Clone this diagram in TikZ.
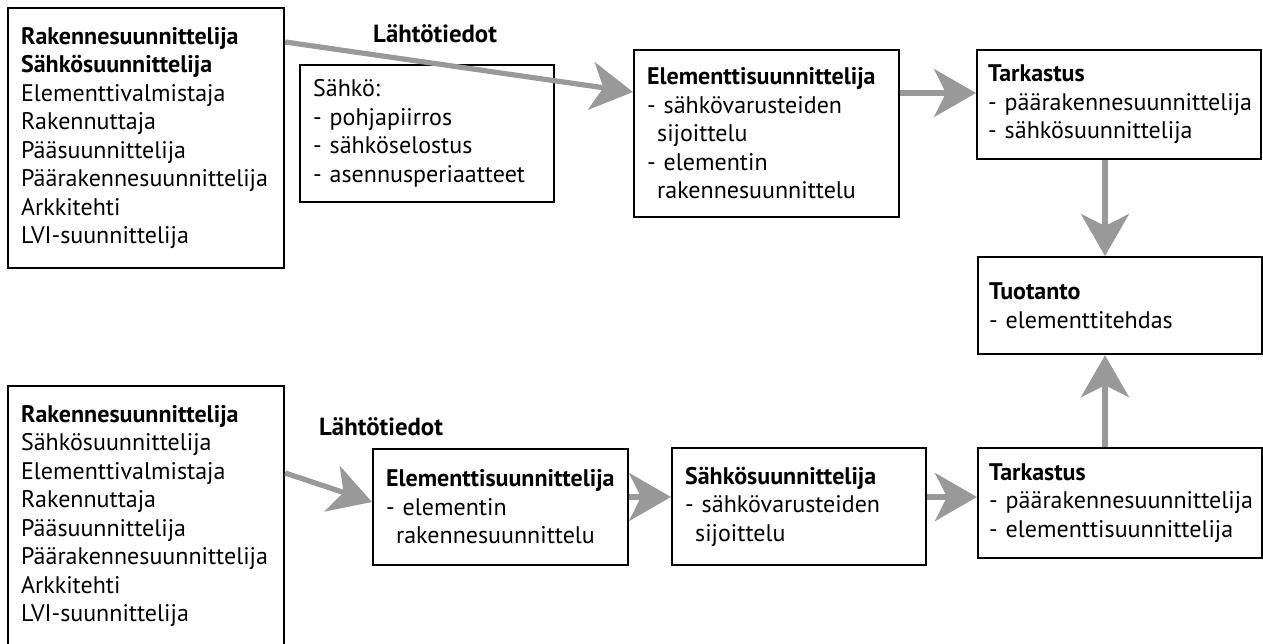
\documentclass[tikz,border=0pt]{standalone}
\usepackage{fontspec}
\setmainfont{PT Sans}
\usepackage{tikz}
\usetikzlibrary{arrows.meta,calc}
\definecolor{nuolenharmaa}{gray}{0.6}
\newcommand{\jatko}{\hspace*{0.42em}}
\hyphenpenalty=10000
\exhyphenpenalty=10000
\hbadness=10000
\hfuzz=20pt

\begin{document}
\begin{tikzpicture}[x=0.5pt, y=-0.5pt,
        laatikko/.style={draw, line width=1.1pt, rectangle, anchor=north west, align=left,
            inner xsep=6.5pt, inner ysep=0pt,
            font=\fontsize{12pt}{14.25pt}\selectfont},
        otsikko/.style={anchor=base, font=\fontsize{12.4pt}{14.25pt}\selectfont\bfseries},
        nuoli/.style={draw=nuolenharmaa, line width=2.6pt,
            -{Stealth[length=21pt, width=24pt, inset=6pt, fill=nuolenharmaa]}}]
    \useasboundingbox (0,0) rectangle (1263,643);
        % ylempi ketju
        \node[laatikko, text width=125pt, minimum height=130pt] (rak1) at (7,7)
            {\textbf{Rakennesuunnittelija}\\ \textbf{Sähkösuunnittelija}\\ Elementtivalmistaja\\ Rakennuttaja\\ Pääsuunnittelija\\ Päärakennesuunnittelija\\ Arkkitehti\\ LVI-suunnittelija};
        \node[otsikko] (lahto1) at (435,42) {Lähtötiedot};
        \node[laatikko, text width=114pt, minimum height=68.5pt] (sahko) at (299,64)
            {Sähkö:\\ -~pohjapiirros\\ -~sähköselostus\\ -~asennusperiaatteet};
        \node[laatikko, text width=119.5pt, minimum height=83.5pt] (elem1) at (633,49)
            {\textbf{Elementtisuunnittelija}\\ -~sähkövarusteiden\\ \jatko sijoittelu\\ -~elementin\\ \jatko rakennesuunnittelu};
        \node[laatikko, inner xsep=5.5pt, text width=131pt, minimum height=54.5pt] (tark1) at (976,49)
            {\textbf{Tarkastus}\\ -~päärakennesuunnittelija\\ -~sähkösuunnittelija};
        \node[laatikko, inner xsep=5.5pt, text width=131pt, minimum height=48.5pt] (tuot) at (977,256)
            {\textbf{Tuotanto}\\ -~elementtitehdas};
        % alempi ketju
        \node[laatikko, text width=125pt, minimum height=130pt] (rak2) at (7,385)
            {\textbf{Rakennesuunnittelija}\\ Sähkösuunnittelija\\ Elementtivalmistaja\\ Rakennuttaja\\ Pääsuunnittelija\\ Päärakennesuunnittelija\\ Arkkitehti\\ LVI-suunnittelija};
        \node[otsikko] (lahto2) at (381,435) {Lähtötiedot};
        \node[laatikko, text width=114.5pt, minimum height=58pt] (elem2) at (372,448)
            {\textbf{Elementtisuunnittelija}\\ -~elementin\\ \jatko rakennesuunnittelu};
        \node[laatikko, text width=114pt, minimum height=58.5pt] (sahkos) at (671,447)
            {\textbf{Sähkösuunnittelija}\\ -~sähkövarusteiden\\ \jatko sijoittelu};
        \node[laatikko, inner xsep=5.5pt, text width=131pt, minimum height=55pt] (tark2) at (977,447)
            {\textbf{Tarkastus}\\ -~päärakennesuunnittelija\\ -~elementtisuunnittelija};

        \draw[nuoli] ($(rak1.north east)+(0,35)$) -- ($(elem1.north west)+(0,43)$);
        \draw[nuoli] ($(elem1.north east)+(0,44)$) -- ($(tark1.north west)+(0,44)$);
        \draw[nuoli] ($(tark1.south west)+(129,0)$) -- ($(tuot.north west)+(128,0)$);
        \draw[nuoli] ($(tark2.north west)+(128,0)$) -- ($(tuot.south west)+(128,0)$);
        \draw[nuoli] ($(rak2.north east)+(0,88)$) -- ($(elem2.north west)+(0,54)$);
        \draw[nuoli] ($(elem2.north east)+(0,49)$) -- ($(sahkos.north west)+(0,50)$);
        \draw[nuoli] ($(sahkos.north east)+(0,50)$) -- ($(tark2.north west)+(0,50)$);
    \end{tikzpicture}
\end{document}
